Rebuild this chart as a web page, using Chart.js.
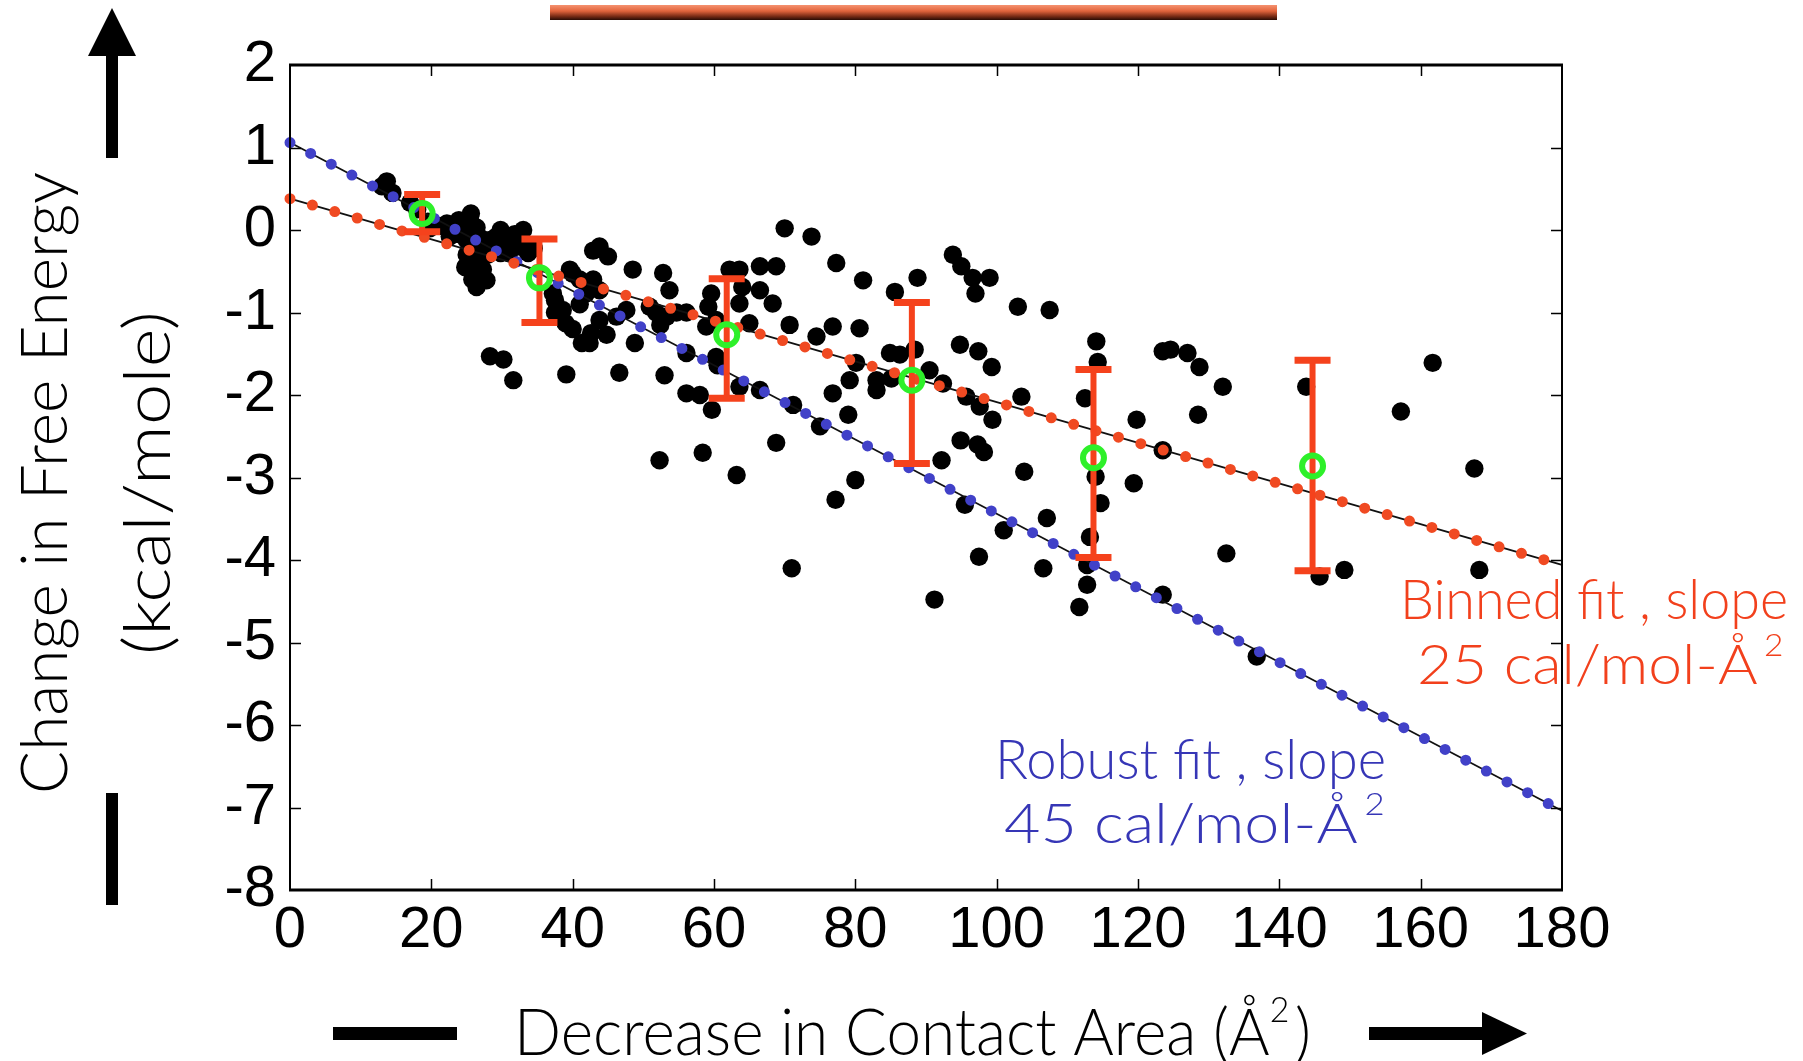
<!DOCTYPE html>
<html>
<head>
<meta charset="utf-8">
<script src="https://cdn.jsdelivr.net/npm/chart.js@4.4.1/dist/chart.umd.min.js"></script>
<style>
html,body{margin:0;padding:0;background:#fff;overflow:hidden}
#wrap{width:1803px;height:1061px;position:relative;background:#fff}
</style>
</head>
<body>
<div id="wrap"><canvas id="c" width="1803" height="1061"></canvas></div>
<script>
// ---------- data ----------
const xTickValues = [0, 20, 40, 60, 80, 100, 120, 140, 160, 180];
const yTickValues = [-8, -7, -6, -5, -4, -3, -2, -1, 0, 1, 2];

const pointsX = [
  13.0,13.7,14.5,17.0,18.0,19.5,19.8,21.0,22.2,22.6,23.0,23.9,24.5,24.0,25.5,25.6,26.4,25.0,25.5,25.0,
  26.4,27.3,26.0,26.4,27.8,27.0,28.0,27.0,28.3,29.2,30.6,29.8,33.0,32.5,33.5,31.5,30.5,31.8,33.7,29.8,
  34.5,37.2,37.5,38.6,39.0,39.6,41.3,42.6,28.3,30.2,31.6,39.1,
  24.8,25.8,26.8,28.8,30.0,31.0,32.2,37.5,40.0,41.0,
  42.9,43.8,45.0,40.0,41.0,42.9,43.8,41.9,48.5,52.8,53.7,47.6,46.2,43.8,44.8,42.4,48.8,50.9,
  51.8,53.3,54.7,56.1,52.4,46.6,53.0,59.6,59.2,58.9,60.3,60.3,60.5,56.1,56.1,58.0,59.7,62.2,
  63.6,66.5,68.8,64.0,66.5,63.6,68.3,65.0,70.7,63.6,66.5,70.0,73.8,77.3,74.5,76.8,71.2,75.0,
  76.8,68.8,52.3,58.4,63.2,
  81.1,85.6,88.8,93.8,95.0,96.6,99.0,97.0,103.0,107.5,80.6,84.9,86.3,88.4,80.1,79.2,83.0,83.0,
  85.1,90.5,92.4,94.8,97.4,99.3,95.7,97.6,99.4,103.5,94.9,97.3,98.2,92.2,103.9,79.0,80.0,77.2,
  114.1,114.3,112.5,114.0,
  71.0,95.5,101.0,97.5,107.1,106.6,91.2,114.7,113.2,112.8,112.8,111.7,
  123.5,124.6,127.0,128.7,132.0,143.8,119.8,128.5,123.5,161.7,157.2,167.6,119.4,132.5,145.7,
  149.2,168.3,123.5,136.8
];
const pointsY = [
  0.53,0.59,0.45,0.33,0.25,0.10,0.02,0.05,0.08,-0.08,-0.02,0.12,0.00,-0.05,0.12,0.20,0.03,-0.12,-0.24,-0.30,
  -0.40,-0.48,-0.55,-0.69,-0.61,-0.10,-0.30,-0.35,-0.12,-0.08,-0.08,0.00,0.00,-0.20,-0.20,-0.16,-0.15,-0.05,-0.28,-0.28,
  -0.22,-0.77,-0.85,-0.97,-1.13,-0.48,-1.37,-1.25,-1.53,-1.57,-1.82,-1.75,
  -0.45,-0.60,-0.25,-0.20,-0.10,-0.28,-0.10,-1.00,-1.20,-0.90,
  -0.25,-0.20,-0.32,-0.53,-0.60,-0.60,-0.73,-0.77,-0.48,-0.52,-0.73,-0.97,-1.05,-1.09,-1.27,-1.37,-1.37,-0.93,
  -1.00,-1.05,-1.00,-1.00,-1.15,-1.73,-1.76,-0.77,-0.93,-1.17,-1.09,-1.54,-1.64,-1.49,-1.98,-2.00,-2.18,-0.48,
  -0.48,-0.44,-0.44,-0.69,-0.73,-0.89,-0.89,-1.13,-1.15,-1.90,-1.94,0.02,-0.08,-0.40,-1.29,-1.17,-2.12,-2.38,
  -1.98,-2.58,-2.79,-2.70,-2.97,
  -0.61,-0.75,-0.58,-0.30,-0.44,-0.58,-0.58,-0.77,-0.93,-0.97,-1.19,-1.49,-1.51,-1.45,-1.61,-1.82,-1.82,-1.94,
  -1.80,-1.70,-1.86,-1.39,-1.47,-1.66,-2.02,-2.14,-2.30,-2.02,-2.55,-2.60,-2.69,-2.79,-2.93,-2.24,-3.03,-3.27,
  -1.35,-1.60,-2.04,-2.99,
  -4.10,-3.33,-3.64,-3.96,-3.49,-4.10,-4.48,-3.31,-3.72,-4.06,-4.30,-4.57,
  -1.47,-1.45,-1.49,-1.66,-1.90,-1.90,-2.30,-2.24,-2.67,-1.61,-2.20,-2.89,-3.07,-3.92,-4.20,
  -4.12,-4.12,-4.42,-5.17
];

// fit lines (value at x = 0 and x = 180)
const fitX = [0, 180];
const robustFitY = [1.06, -7.04];
const binnedFitY = [0.38, -4.06];

// binned means with error bars
const binX    = [18.7, 35.3, 61.8, 88.0, 113.7, 144.7];
const binMean = [0.20, -0.58, -1.27, -1.82, -2.76, -2.86];
const binLow  = [-0.02, -1.12, -2.04, -2.83, -3.97, -4.13];
const binHigh = [0.43, -0.11, -0.59, -0.88, -1.69, -1.58];

// text
const yTitle1 = 'Change in Free Energy';
const yTitle2 = '(kcal/mole)';
const xTitleMain = 'Decrease in Contact Area (\u00C5';
const binnedLabel1 = 'Binned fit , slope';
const binnedLabel2 = '25 cal/mol-\u00C5';
const robustLabel1 = 'Robust fit , slope';
const robustLabel2 = '45 cal/mol-\u00C5';

// ---------- styling ----------
const HAND = '"Lato", "Open Sans", "DejaVu Sans", sans-serif';
const RED = '#f2401c';
const BLUE = '#3636b6';
const ERR = '#f5421c';

function xy(xs, ys) { return xs.map((v, i) => ({x: v, y: ys[i]})); }

function drawRich(ctx, segs, x0, x1, baseline, size, color, weight) {
  ctx.save();
  ctx.fillStyle = color;
  ctx.textBaseline = 'alphabetic';
  ctx.textAlign = 'left';
  let w = 0;
  const widths = [];
  for (const s of segs) {
    ctx.font = `${weight} ${s.sup ? Math.round(size * 0.55) : size}px ${HAND}`;
    const ww = ctx.measureText(s.t).width + (s.gap || 0);
    widths.push(ww);
    w += ww;
  }
  const sx = (x1 - x0) / w;
  ctx.translate(x0, baseline);
  ctx.scale(sx, 1);
  let cx = 0;
  segs.forEach((s, i) => {
    ctx.font = `${weight} ${s.sup ? Math.round(size * 0.55) : size}px ${HAND}`;
    ctx.fillText(s.t, cx + (s.pre || 0), s.sup ? -size * 0.5 : 0);
    cx += widths[i];
  });
  ctx.restore();
}

const decor = {
  id: 'decor',
  beforeDatasetDraw(chart, args) {
    if (args.index !== 5) return;
    const {ctx, scales: {x, y}} = chart;
    ctx.save();
    ctx.strokeStyle = ERR;
    ctx.lineCap = 'butt';
    for (let i = 0; i < binX.length; i++) {
      const px = x.getPixelForValue(binX[i]);
      const pl = y.getPixelForValue(binLow[i]);
      const ph = y.getPixelForValue(binHigh[i]);
      ctx.lineWidth = 6;
      ctx.beginPath(); ctx.moveTo(px, ph); ctx.lineTo(px, pl); ctx.stroke();
      ctx.lineWidth = 7;
      ctx.beginPath();
      ctx.moveTo(px - 18, ph); ctx.lineTo(px + 18, ph);
      ctx.moveTo(px - 18, pl); ctx.lineTo(px + 18, pl);
      ctx.stroke();
    }
    ctx.restore();
  },
  afterDraw(chart) {
    const {ctx, chartArea: a, scales: {x, y}} = chart;
    ctx.save();
    // frame
    ctx.strokeStyle = '#000';
    ctx.lineWidth = 3;
    ctx.beginPath(); ctx.moveTo(a.left - 1, a.top); ctx.lineTo(a.right + 1, a.top); ctx.stroke();
    ctx.beginPath(); ctx.moveTo(a.left - 1, a.bottom); ctx.lineTo(a.right + 1, a.bottom); ctx.stroke();
    ctx.lineWidth = 2;
    ctx.beginPath(); ctx.moveTo(a.left, a.top); ctx.lineTo(a.left, a.bottom); ctx.stroke();
    ctx.beginPath(); ctx.moveTo(a.right, a.top); ctx.lineTo(a.right, a.bottom); ctx.stroke();
    // inward ticks
    ctx.lineWidth = 1.5;
    ctx.beginPath();
    xTickValues.slice(1, -1).forEach(v => {
      const p = Math.round(x.getPixelForValue(v)) + 0.5;
      ctx.moveTo(p, a.bottom); ctx.lineTo(p, a.bottom - 11);
      ctx.moveTo(p, a.top); ctx.lineTo(p, a.top + 11);
    });
    yTickValues.slice(1, -1).forEach(v => {
      const p = Math.round(y.getPixelForValue(v)) + 0.5;
      ctx.moveTo(a.left, p); ctx.lineTo(a.left + 11, p);
      ctx.moveTo(a.right, p); ctx.lineTo(a.right - 11, p);
    });
    ctx.stroke();

    // top decorative bar
    const g = ctx.createLinearGradient(0, 5, 0, 20);
    g.addColorStop(0, '#f59270');
    g.addColorStop(0.4, '#e2643c');
    g.addColorStop(0.75, '#7a2c16');
    g.addColorStop(1, '#2a0c04');
    ctx.fillStyle = g;
    ctx.fillRect(550, 5, 727, 15);

    // arrows / bars
    ctx.fillStyle = '#000';
    ctx.fillRect(106, 50, 12, 108);
    ctx.beginPath(); ctx.moveTo(112, 8); ctx.lineTo(88, 56); ctx.lineTo(136, 56); ctx.closePath(); ctx.fill();
    ctx.fillRect(106, 793, 12, 112);
    ctx.fillRect(333, 1027, 124, 13);
    ctx.fillRect(1369, 1027, 116, 13);
    ctx.beginPath(); ctx.moveTo(1482, 1012); ctx.lineTo(1527, 1033.5); ctx.lineTo(1482, 1055); ctx.closePath(); ctx.fill();

    // y title (rotated)
    ctx.save();
    ctx.translate(67, 483); ctx.rotate(-Math.PI / 2);
    drawRich(ctx, [{t: yTitle1}], -311, 311, 0, 66, '#000', 300);
    ctx.restore();
    ctx.save();
    ctx.translate(170, 483); ctx.rotate(-Math.PI / 2);
    drawRich(ctx, [{t: yTitle2}], -172, 172, 0, 66, '#000', 300);
    ctx.restore();

    // x title
    drawRich(ctx, [{t: xTitleMain}, {t: '2', sup: true, gap: 6}, {t: ')'}], 514, 1311, 1055, 66, '#000', 300);

    // annotations
    drawRich(ctx, [{t: binnedLabel1}], 1400, 1788, 619, 56, RED, 300);
    drawRich(ctx, [{t: binnedLabel2}, {t: '2', sup: true, pre: 6}], 1417, 1777, 684, 56, RED, 300);
    drawRich(ctx, [{t: robustLabel1}], 995, 1386, 779, 56, BLUE, 300);
    drawRich(ctx, [{t: robustLabel2}, {t: '2', sup: true, pre: 6}], 1004, 1378, 843, 56, BLUE, 300);
    ctx.restore();
  }
};

const tickFont = {family: '"Liberation Sans", Arial, sans-serif', size: 58};

new Chart(document.getElementById('c'), {
  type: 'scatter',
  data: {
    datasets: [
      { label: 'data', data: xy(pointsX, pointsY), backgroundColor: '#000', borderWidth: 0, pointRadius: 9.2, order: 7 },
      { label: 'robust line', data: xy(fitX, robustFitY), showLine: true, borderColor: '#111', borderWidth: 1.8, pointRadius: 0, clip: false, order: 6 },
      { label: 'robust dots', data: xy(fitX, robustFitY), showLine: true, borderColor: '#4141c8', borderWidth: 11, borderDash: [0, 23.3], borderCapStyle: 'round', pointRadius: 0, clip: false, order: 5 },
      { label: 'binned line', data: xy(fitX, binnedFitY), showLine: true, borderColor: '#111', borderWidth: 1.8, pointRadius: 0, clip: false, order: 4 },
      { label: 'binned dots', data: xy(fitX, binnedFitY), showLine: true, borderColor: '#f04a22', borderWidth: 11, borderDash: [0, 23.3], borderCapStyle: 'round', pointRadius: 0, clip: false, order: 3 },
      { label: 'bin means', data: xy(binX, binMean), backgroundColor: 'rgba(0,0,0,0)', borderColor: '#2ef02a', borderWidth: 6, pointRadius: 10.5, order: 1 }
    ]
  },
  options: {
    responsive: false,
    animation: false,
    events: [],
    devicePixelRatio: 1,
    layout: { padding: { left: 0, right: 241, top: 65, bottom: 0 } },
    plugins: { legend: { display: false }, tooltip: { enabled: false }, title: { display: false } },
    scales: {
      x: {
        type: 'linear', min: 0, max: 180,
        afterBuildTicks: s => { s.ticks = xTickValues.map(v => ({value: v})); },
        afterFit: s => { s.height = 171; },
        grid: { display: false, drawTicks: false },
        border: { display: false },
        ticks: { font: tickFont, color: '#000', padding: 6, maxRotation: 0, autoSkip: false }
      },
      y: {
        type: 'linear', min: -8, max: 2,
        afterBuildTicks: s => { s.ticks = yTickValues.map(v => ({value: v})); },
        afterFit: s => { s.width = 290; },
        grid: { display: false, drawTicks: false },
        border: { display: false },
        ticks: { font: tickFont, color: '#000', padding: 14, autoSkip: false }
      }
    }
  },
  plugins: [decor]
});
</script>
</body>
</html>
